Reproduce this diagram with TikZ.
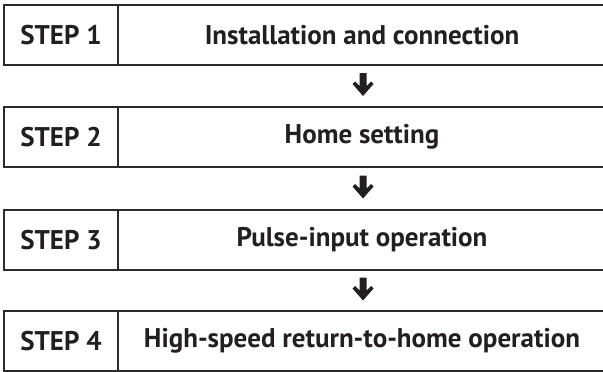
\documentclass[tikz,border=0pt]{standalone}
\usepackage{fontspec}
\setmainfont{PT Sans}
\usetikzlibrary{calc}
\definecolor{ink}{HTML}{231F20}
\definecolor{rule}{HTML}{2B2B2B}
\begin{document}
\begin{tikzpicture}[x=1pt,y=-1pt,
  cell/.style={draw=rule,line width=2pt,minimum height=60pt,inner sep=0pt,
    text=ink,font=\fontsize{27}{31}\selectfont\bfseries},
  lcell/.style={cell,minimum width=114pt},
  rcell/.style={cell,minimum width=488pt},
  pics/downarrow/.style={code={
    \fill[ink] (-3.5,-11.5) -- (3.5,-11.5) -- (3.5,1.5) -- (8,-3) -- (10.5,-0.5)
      -- (0,11.5) -- (-10.5,-0.5) -- (-8,-3) -- (-3.5,1.5) -- cycle;}}]
\useasboundingbox (0,0) rectangle (603,372);
\foreach \i/\t/\y in {1/Installation and connection/35,2/Home setting/137,3/Pulse-input operation/240,4/High-speed return-to-home operation/341}{
  \node[lcell] (s\i) at (61,\y) {STEP \i};
  \node[rcell] (r\i) at (362,\y) {\t};
}
\foreach \a/\b in {1/2,2/3,3/4}{
  \pic at ($(r\a.south)!0.5!(r\b.north)+(1,-1.5)$) {downarrow};
}
\end{tikzpicture}
\end{document}
